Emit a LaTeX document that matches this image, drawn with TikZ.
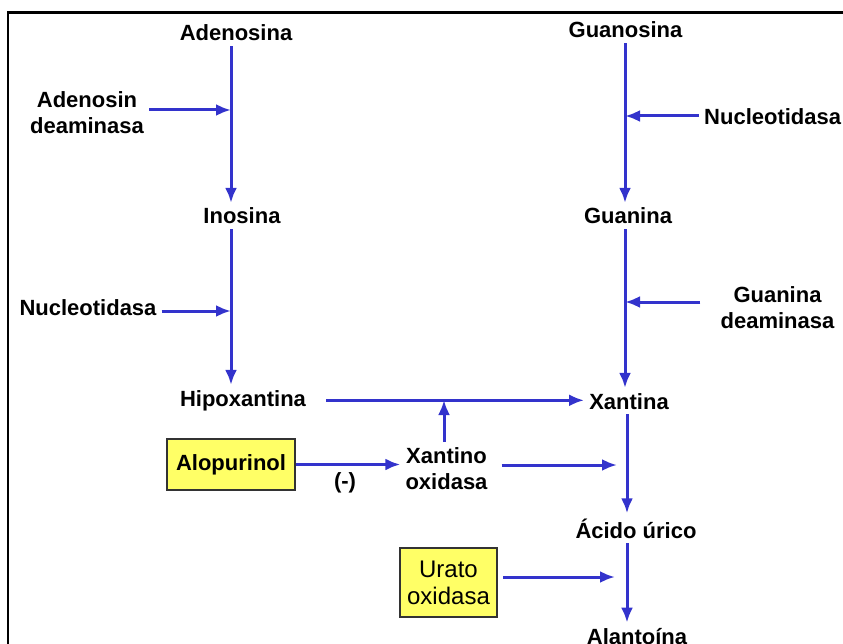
\documentclass[tikz,border=0pt]{standalone}
\usepackage{fontspec}
\setmainfont{Liberation Sans}
\usetikzlibrary{arrows.meta}
\definecolor{azul}{RGB}{51,51,204}
\definecolor{amarillo}{RGB}{255,255,102}

\begin{document}
\begin{tikzpicture}[x=1pt, y=-1pt, font=\fontsize{22}{26}\selectfont\bfseries,
    met/.style={inner sep=5pt, align=center},
    caja/.style={draw=black!80, fill=amarillo, line width=2.5pt, inner sep=0pt, align=center},
    flecha/.style={color=azul, line width=3pt, -{Latex[length=15pt,width=12pt]}}]
   \useasboundingbox (0,0) rectangle (843,644);
   \draw[line width=2.5pt] (8,660) -- (8,12.5) -- (860,12.5);
   % metabolitos
   \node[met, anchor=base] (ade) at (236,41) {Adenosina};
   \node[met, anchor=base] (ino) at (242,224) {Inosina};
   \node[met, anchor=base] (hip) at (243,406) {Hipoxantina};
   \node[met, anchor=base] (gua) at (625.5,38) {Guanosina};
   \node[met, anchor=base] (gun) at (628,224) {Guanina};
   \node[met, anchor=base] (xan) at (629,409) {Xantina};
   \node[met, anchor=base] (aci) at (636,538) {Ácido úrico};
   \node[met, anchor=base] (ala) at (637,644) {Alantoína};
   % enzimas
   \node[met, anchor=north] (adeam) at (87,86) {Adenosin\\deaminasa};
   \node[met, anchor=base] (nuc1) at (88,315) {Nucleotidasa};
   \node[met, anchor=base west] (nuc2) at (699,125) {Nucleotidasa};
   \node[met, anchor=north] (gdeam) at (777.5,281) {Guanina\\deaminasa};
   \node[met, anchor=north] (xo) at (446.5,442) {Xantino\\oxidasa};
   \node[met, anchor=base] (menos) at (345,488) {(-)};
   \node[caja, minimum width=128pt, minimum height=51pt] (alo) at (231,464.5) {Alopurinol};
   \node[caja, minimum width=97pt, minimum height=69pt,
         font=\fontsize{24}{27}\selectfont\mdseries] (ura) at (448.5,582.5) {Urato\\oxidasa};
   % ejes y puntos de llegada
   \coordinate (eI) at (231,0);
   \coordinate (eD) at (625,0);
   \coordinate (eD2) at (627,0);
   \coordinate (pA) at (231,110);
   \coordinate (pN) at (231,311);
   \coordinate (pG) at (625,116);
   \coordinate (pGd) at (625,302);
   \coordinate (pXO) at (444,400);
   \coordinate (pXs) at (617,465);
   \coordinate (pU) at (615,577);
   \path[flecha]
    (ade.south -| eI) edge (ino.north -| eI)
    (ino.south -| eI) edge (hip.north -| eI)
    (gua.south -| eD) edge (gun.north -| eD)
    (gun.south -| eD) edge (xan.north -| eD)
    (xan.south -| eD2) edge (aci.north -| eD2)
    (aci.south -| eD2) edge (ala.north -| eD2)
    (hip.east) edge[shorten <=15pt] (hip.east -| xan.west)
    (xo.north -| pXO) edge (pXO)
    (adeam.east |- pA) edge (pA)
    (nuc1.east |- pN) edge (pN)
    (nuc2.west |- pG) edge (pG)
    (gdeam.west |- pGd) edge[shorten <=15pt] (pGd)
    (xo.east |- pXs) edge[shorten <=9pt] (pXs)
    (alo.east) edge (alo.east -| xo.west)
    (ura.east |- pU) edge[shorten <=5pt] (pU);
\end{tikzpicture}
\end{document}
